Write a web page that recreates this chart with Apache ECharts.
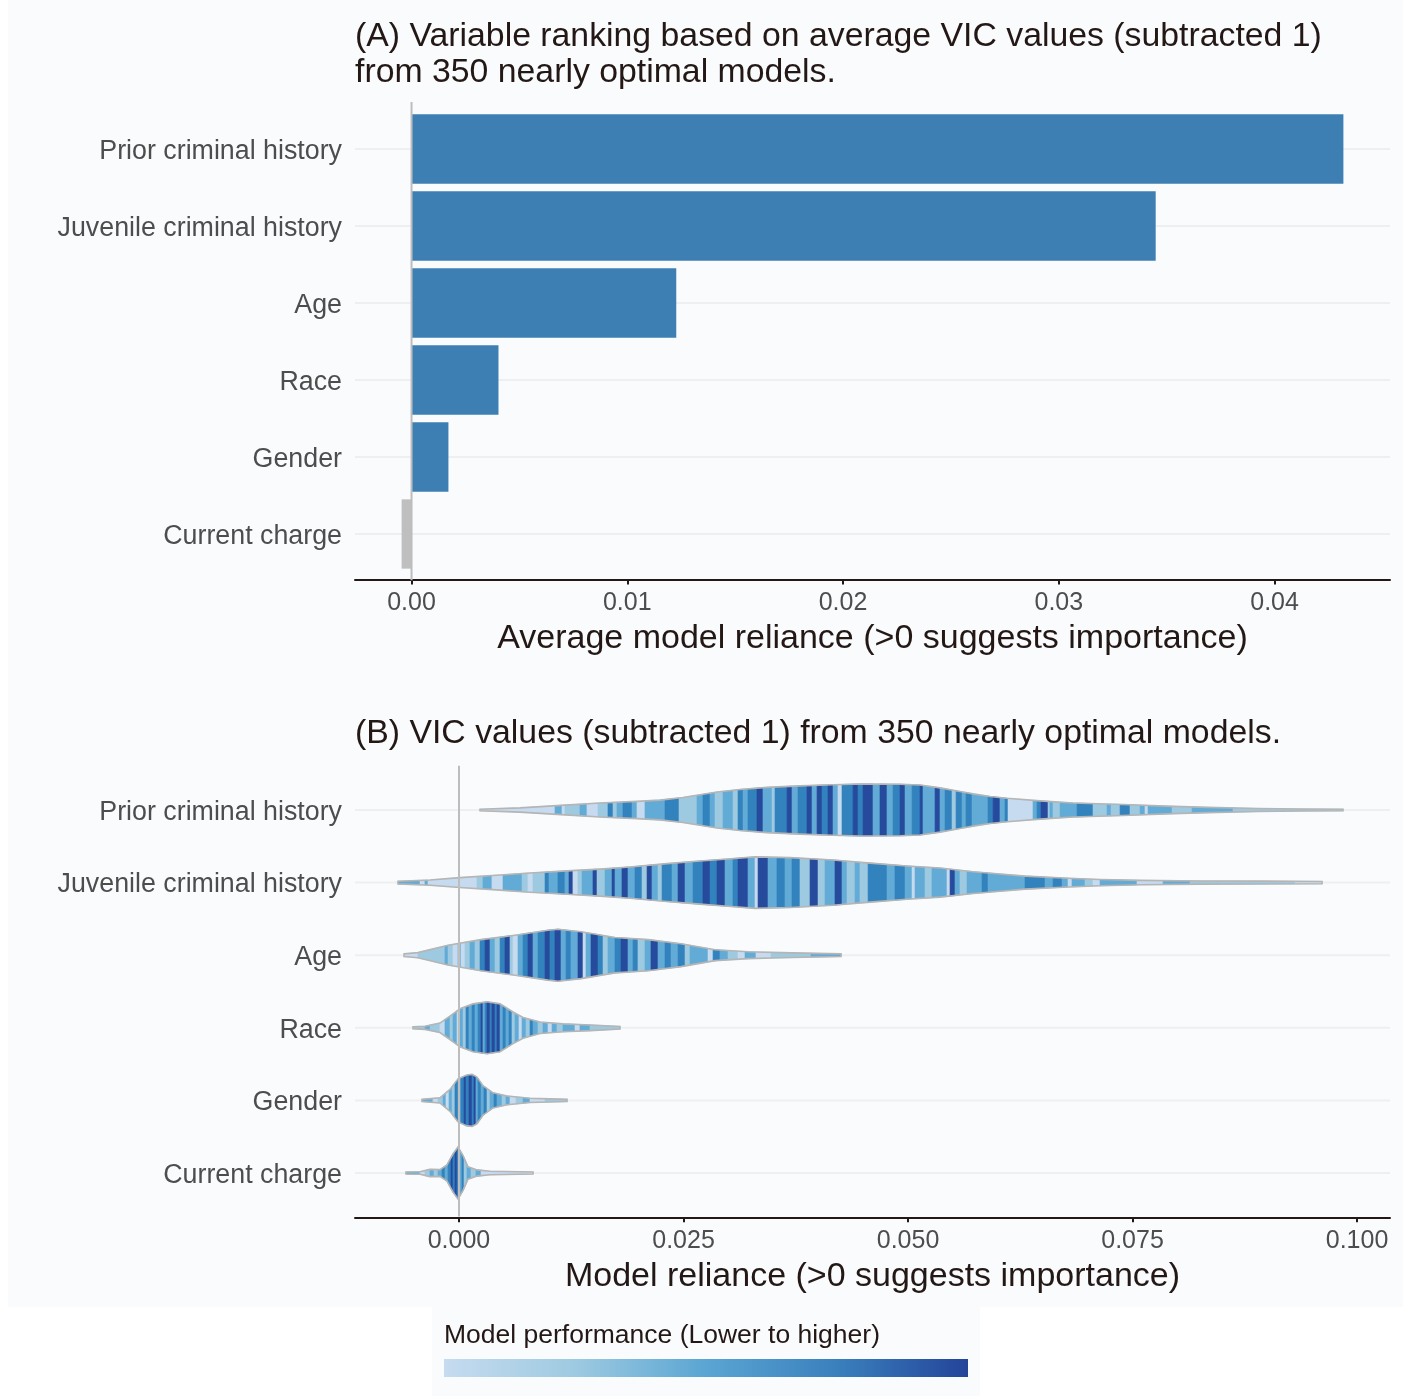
<!DOCTYPE html>
<html>
<head>
<meta charset="utf-8">
<script src="https://cdn.jsdelivr.net/npm/echarts@6/dist/echarts.min.js"></script>
<style>
  html, body { margin: 0; padding: 0; background: #ffffff; }
  #chart { width: 1409px; height: 1396px; }
</style>
</head>
<body>
<div id="chart"></div>
<script>
// Variables (top to bottom)
const categories = ['Prior criminal history', 'Juvenile criminal history', 'Age', 'Race', 'Gender', 'Current charge'];

// Panel A: average model reliance per variable
const meanReliance = [0.04319, 0.03449, 0.01227, 0.00403, 0.00171, -0.00046];

// Tick values
const tickValuesA = [0, 0.01, 0.02, 0.03, 0.04];
const tickValuesB = [0, 0.025, 0.05, 0.075, 0.1];

// Model performance bins, lower -> higher
const performanceColors = ['#c6dbef', '#9ecae1', '#62abd6', '#3282be', '#264a9c'];

// Panel B: violin outlines, [model reliance, relative density]
const priorShape = [[0.00234,0.03],[0.00679,0.08],[0.01091,0.17],[0.01570,0.27],[0.01982,0.33],[0.02238,0.38],[0.02494,0.48],[0.02873,0.69],[0.03129,0.79],[0.03430,0.87],[0.03797,0.93],[0.04165,0.97],[0.04465,1.00],[0.04911,0.99],[0.05134,0.96],[0.05356,0.85],[0.05579,0.71],[0.05724,0.62],[0.05913,0.52],[0.06102,0.45],[0.06470,0.35],[0.06837,0.27],[0.07394,0.21],[0.07951,0.14],[0.08330,0.10],[0.08886,0.06],[0.09365,0.04],[0.09844,0.03]];
const juvenileShape = [[-0.00679,0.05],[-0.00323,0.10],[0.00011,0.19],[0.00457,0.29],[0.00791,0.37],[0.01203,0.45],[0.01570,0.52],[0.01904,0.60],[0.02316,0.73],[0.02684,0.83],[0.02996,0.91],[0.03296,0.99],[0.03686,0.96],[0.04165,0.87],[0.04577,0.75],[0.04989,0.64],[0.05356,0.56],[0.05724,0.42],[0.06024,0.33],[0.06303,0.25],[0.06782,0.17],[0.07138,0.12],[0.07584,0.085],[0.08252,0.06],[0.08920,0.055],[0.09610,0.045]];
const ageShape = [[-0.00612,0.05],[-0.00457,0.10],[-0.00122,0.38],[0.00245,0.60],[0.00624,0.77],[0.00991,0.96],[0.01102,1.00],[0.01359,0.90],[0.01737,0.68],[0.02105,0.60],[0.02472,0.44],[0.02851,0.21],[0.03218,0.13],[0.03586,0.10],[0.03964,0.07],[0.04254,0.05]];
const raceShape = [[-0.00512,0.04],[-0.00379,0.06],[-0.00212,0.18],[-0.00100,0.45],[0.00011,0.73],[0.00156,0.92],[0.00312,1.00],[0.00457,0.92],[0.00601,0.61],[0.00713,0.40],[0.00902,0.22],[0.01158,0.15],[0.01459,0.11],[0.01793,0.05]];
const genderShape = [[-0.00412,0.04],[-0.00212,0.10],[-0.00100,0.42],[-0.00011,0.83],[0.00089,0.98],[0.00145,1.00],[0.00200,0.90],[0.00267,0.57],[0.00379,0.29],[0.00535,0.17],[0.00791,0.08],[0.01203,0.04]];
const currentShape = [[-0.00590,0.04],[-0.00434,0.05],[-0.00323,0.14],[-0.00212,0.13],[-0.00134,0.31],[-0.00067,0.73],[-0.00011,1.00],[0.00045,0.67],[0.00100,0.24],[0.00200,0.12],[0.00345,0.07],[0.00824,0.04]];

// Panel B: model stripes, [model reliance where the stripe starts, performance bin]
const priorStripes = [[0.00234,0],[0.01069,2],[0.01147,0],[0.01180,1],[0.01347,2],[0.01425,0],[0.01548,1],[0.01659,3],[0.01715,1],[0.01759,2],[0.01826,3],[0.01927,2],[0.01982,0],[0.02071,2],[0.02294,3],[0.02450,1],[0.02650,2],[0.02717,3],[0.02795,2],[0.02851,1],[0.02940,2],[0.03051,1],[0.03107,3],[0.03163,2],[0.03218,3],[0.03318,4],[0.03385,2],[0.03486,1],[0.03519,3],[0.03653,4],[0.03708,2],[0.03775,3],[0.03875,4],[0.03931,2],[0.03987,4],[0.04042,3],[0.04109,4],[0.04165,2],[0.04220,0],[0.04265,3],[0.04388,4],[0.04443,3],[0.04499,4],[0.04610,2],[0.04688,4],[0.04766,2],[0.04833,3],[0.04911,4],[0.04967,2],[0.05045,3],[0.05134,4],[0.05167,2],[0.05301,4],[0.05356,2],[0.05412,3],[0.05490,1],[0.05535,3],[0.05601,2],[0.05646,3],[0.05713,2],[0.05891,3],[0.05947,4],[0.06024,2],[0.06080,3],[0.06114,0],[0.06392,2],[0.06437,3],[0.06481,4],[0.06559,1],[0.06581,2],[0.06615,1],[0.06693,2],[0.06882,3],[0.07060,1],[0.07216,2],[0.07261,1],[0.07361,3],[0.07472,1],[0.07584,2],[0.07639,0],[0.07673,2],[0.07940,1],[0.08163,2],[0.08619,1]];
const juvenileStripes = [[-0.00679,2],[-0.00434,0],[-0.00379,2],[-0.00345,0],[0.00200,1],[0.00267,2],[0.00367,0],[0.00490,2],[0.00702,1],[0.00768,0],[0.00824,1],[0.00958,3],[0.01002,2],[0.01102,3],[0.01180,2],[0.01225,4],[0.01269,0],[0.01325,1],[0.01370,2],[0.01492,4],[0.01537,1],[0.01626,2],[0.01704,4],[0.01737,2],[0.01815,4],[0.01882,2],[0.01960,3],[0.02038,1],[0.02094,4],[0.02149,2],[0.02216,1],[0.02261,3],[0.02372,2],[0.02439,4],[0.02517,2],[0.02606,3],[0.02717,4],[0.02795,3],[0.02873,4],[0.02962,2],[0.03051,3],[0.03107,4],[0.03218,2],[0.03296,0],[0.03330,4],[0.03441,2],[0.03541,3],[0.03630,2],[0.03708,3],[0.03797,1],[0.03909,4],[0.03998,1],[0.04076,2],[0.04187,4],[0.04265,2],[0.04321,1],[0.04410,2],[0.04465,1],[0.04555,3],[0.04766,2],[0.04855,3],[0.04967,2],[0.05045,0],[0.05078,2],[0.05189,1],[0.05267,2],[0.05434,0],[0.05468,4],[0.05523,2],[0.05579,1],[0.05657,2],[0.05824,3],[0.05891,2],[0.06303,3],[0.06526,2],[0.06615,3],[0.06715,2],[0.06782,0],[0.06826,2],[0.06971,1],[0.07060,0],[0.07138,2],[0.07550,0],[0.07840,2],[0.08140,1],[0.09310,0]];
const ageStripes = [[-0.00612,0],[-0.00457,1],[-0.00156,2],[-0.00122,1],[-0.00067,0],[-0.00011,2],[0.00022,0],[0.00067,1],[0.00122,2],[0.00178,1],[0.00234,3],[0.00290,4],[0.00345,2],[0.00401,1],[0.00457,3],[0.00512,4],[0.00568,1],[0.00601,0],[0.00657,2],[0.00713,3],[0.00768,4],[0.00824,2],[0.00880,3],[0.00958,4],[0.01013,3],[0.01069,4],[0.01136,2],[0.01192,3],[0.01247,2],[0.01325,4],[0.01381,0],[0.01414,2],[0.01470,4],[0.01548,3],[0.01604,1],[0.01659,2],[0.01737,3],[0.01804,4],[0.01882,2],[0.01938,3],[0.01993,1],[0.02071,2],[0.02138,4],[0.02216,2],[0.02294,3],[0.02361,2],[0.02439,3],[0.02517,1],[0.02572,2],[0.02773,0],[0.02829,3],[0.02906,2],[0.02996,1],[0.03107,0],[0.03185,2],[0.03307,0],[0.03474,1],[0.03920,2]];
const raceStripes = [[-0.00512,1],[-0.00379,2],[-0.00323,1],[-0.00212,0],[-0.00156,2],[-0.00100,1],[-0.00067,2],[-0.00022,0],[0.00011,2],[0.00045,1],[0.00078,3],[0.00111,2],[0.00145,3],[0.00178,2],[0.00212,3],[0.00245,4],[0.00267,2],[0.00290,3],[0.00312,4],[0.00345,3],[0.00367,4],[0.00401,3],[0.00423,4],[0.00457,2],[0.00490,3],[0.00523,2],[0.00557,3],[0.00590,1],[0.00624,2],[0.00668,0],[0.00702,2],[0.00746,1],[0.00791,3],[0.00824,2],[0.00880,1],[0.00935,2],[0.00991,0],[0.01036,2],[0.01091,1],[0.01158,2],[0.01292,0],[0.01347,2],[0.01459,1]];
const genderStripes = [[-0.00412,2],[-0.00290,0],[-0.00234,1],[-0.00178,2],[-0.00145,0],[-0.00111,2],[-0.00078,1],[-0.00045,3],[-0.00011,2],[0.00022,3],[0.00056,4],[0.00078,3],[0.00111,4],[0.00145,3],[0.00167,4],[0.00189,2],[0.00212,3],[0.00245,2],[0.00278,3],[0.00312,1],[0.00345,2],[0.00390,3],[0.00423,2],[0.00479,1],[0.00523,2],[0.00568,0],[0.00635,1],[0.00713,2],[0.00791,0],[0.00958,1]];
const currentStripes = [[-0.00590,2],[-0.00434,0],[-0.00379,1],[-0.00323,2],[-0.00278,1],[-0.00234,2],[-0.00189,3],[-0.00156,2],[-0.00122,3],[-0.00089,4],[-0.00067,3],[-0.00045,4],[-0.00022,3],[0.00011,2],[0.00033,3],[0.00056,1],[0.00089,2],[0.00134,1],[0.00189,2],[0.00245,0]];

const violinShapes = [priorShape, juvenileShape, ageShape, raceShape, genderShape, currentShape];
const violinStripes = [priorStripes, juvenileStripes, ageStripes, raceStripes, genderStripes, currentStripes];

const FONT = 'Liberation Sans, Arial, Helvetica, sans-serif';
const INK = '#231815';
const GREY_TEXT = '#4d4d4d';
const PANEL_BG = '#f9fbfd';

// Violin half-height at the widest point, as a share of one category band
const VIOLIN_HALF = 0.358;

function halfAt(shape, v) {
  if (v < shape[0][0] || v > shape[shape.length - 1][0]) return 0;
  for (let j = 0; j < shape.length - 1; j++) {
    const a = shape[j], b = shape[j + 1];
    if (v >= a[0] && v <= b[0]) {
      const t = b[0] === a[0] ? 0 : (v - a[0]) / (b[0] - a[0]);
      return a[1] + t * (b[1] - a[1]);
    }
  }
  return shape[shape.length - 1][1];
}

function renderViolin(params, api) {
  const i = params.dataIndex;
  const shape = violinShapes[i];
  const stripes = violinStripes[i];
  const band = api.size([0, 1])[1];
  const cy = api.coord([0, i])[1];
  const k = VIOLIN_HALF * band;
  const px = v => api.coord([v, i])[0];
  const end = shape[shape.length - 1][0];
  const children = [];

  stripes.forEach((s, j) => {
    const x0 = s[0];
    const x1 = j + 1 < stripes.length ? stripes[j + 1][0] : end;
    const xs = [x0];
    shape.forEach(p => { if (p[0] > x0 && p[0] < x1) xs.push(p[0]); });
    xs.push(x1);
    const top = xs.map(v => [px(v), cy - halfAt(shape, v) * k]);
    const bottom = xs.slice().reverse().map(v => [px(v), cy + halfAt(shape, v) * k]);
    const c = performanceColors[s[1]];
    children.push({
      type: 'polygon',
      shape: { points: top.concat(bottom) },
      style: { fill: c, stroke: c, lineWidth: 0.6 }
    });
  });

  const outlineTop = shape.map(p => [px(p[0]), cy - p[1] * k]);
  const outlineBottom = shape.slice().reverse().map(p => [px(p[0]), cy + p[1] * k]);
  children.push({
    type: 'polygon',
    shape: { points: outlineTop.concat(outlineBottom) },
    style: { fill: 'none', stroke: '#b5b5b5', lineWidth: 1.6 }
  });
  return { type: 'group', children };
}

// Horizontal guide lines through each category centre
function renderGridLines(params, api) {
  const cs = params.coordSys;
  const children = categories.map((c, i) => {
    const y = api.coord([0, i])[1];
    return { type: 'line', shape: { x1: cs.x, y1: y, x2: cs.x + cs.width, y2: y },
             style: { stroke: '#eeeff0', lineWidth: 2 } };
  });
  return { type: 'group', children };
}

// Vertical reference line at zero, running slightly past the bands like the panel
function renderZeroLine(params, api) {
  const cs = params.coordSys;
  const band = api.size([0, 1])[1];
  const x = api.coord([0, 0])[0];
  return { type: 'line',
           shape: { x1: x, y1: cs.y - 0.11 * band, x2: x, y2: cs.y + cs.height + 0.1 * band },
           style: { stroke: '#bdbdbd', lineWidth: 2 } };
}

const chart = echarts.init(document.getElementById('chart'), null, { renderer: 'canvas' });

function valueAxis(gridIndex, min, max, ticks, digits, name, offset) {
  return {
    type: 'value', gridIndex, min, max, offset,
    name, nameLocation: 'middle', nameGap: 42,
    nameTextStyle: { fontSize: 34, color: INK, fontFamily: FONT },
    axisLine: { show: true, onZero: false, lineStyle: { color: INK, width: 2 } },
    axisTick: { show: true, length: 5, customValues: ticks, lineStyle: { color: INK, width: 2 } },
    axisLabel: { customValues: ticks, fontSize: 25, color: GREY_TEXT, fontFamily: FONT, margin: 11,
                 formatter: v => v.toFixed(digits) },
    splitLine: { show: false }
  };
}

function categoryAxis(gridIndex) {
  return {
    type: 'category', gridIndex, data: categories, inverse: true,
    axisLine: { show: false }, axisTick: { show: false },
    axisLabel: {
      margin: 13,
      formatter: v => '{n|' + v + '}',
      rich: { n: { fontSize: 26.8, color: GREY_TEXT, fontFamily: FONT, padding: [5, 0, 0, 0] } }
    },
    splitLine: { show: false }
  };
}

const option = {
  backgroundColor: '#ffffff',
  animation: false,
  graphic: [
    { type: 'rect', z: -10, silent: true, shape: { x: 8, y: 0, width: 1395, height: 1307 }, style: { fill: PANEL_BG } },
    { type: 'rect', z: -10, silent: true, shape: { x: 432, y: 1307, width: 548, height: 89 }, style: { fill: PANEL_BG } },
    { type: 'text', left: 444, top: 1322, style: { text: 'Model performance (Lower to higher)', fontSize: 26.5, fill: INK, fontFamily: FONT } },
    { type: 'rect', silent: true, shape: { x: 444, y: 1359, width: 524, height: 18 },
      style: { fill: new echarts.graphic.LinearGradient(0, 0, 1, 0, [
        { offset: 0, color: performanceColors[0] },
        { offset: 0.25, color: performanceColors[1] },
        { offset: 0.5, color: '#5aa5d3' },
        { offset: 0.75, color: '#3a80bd' },
        { offset: 1, color: '#24449a' }
      ]) } }
  ],
  title: [
    { text: '(A) Variable ranking based on average VIC values (subtracted 1)\nfrom 350 nearly optimal models.',
      left: 355, top: 19, padding: 0,
      textStyle: { fontSize: 33.8, fontWeight: 'normal', color: INK, lineHeight: 36, fontFamily: FONT } },
    { text: '(B) VIC values (subtracted 1) from 350 nearly optimal models.',
      left: 355, top: 716, padding: 0,
      textStyle: { fontSize: 33.8, fontWeight: 'normal', color: INK, lineHeight: 36, fontFamily: FONT } }
  ],
  grid: [
    { left: 355, top: 110.5, width: 1035, height: 462, containLabel: false, outerBoundsMode: 'none' },
    { left: 355, top: 773.7, width: 1035, height: 435.6, containLabel: false, outerBoundsMode: 'none' }
  ],
  xAxis: [
    valueAxis(0, -0.00262, 0.04535, tickValuesA, 2, 'Average model reliance (>0 suggests importance)', 7),
    valueAxis(1, -0.01158, 0.10367, tickValuesB, 3, 'Model reliance (>0 suggests importance)', 8)
  ],
  yAxis: [categoryAxis(0), categoryAxis(1)],
  series: [
    { type: 'custom', xAxisIndex: 0, yAxisIndex: 0, z: 1, silent: true,
      data: [[0, 0]], renderItem: renderGridLines },
    { type: 'bar', xAxisIndex: 0, yAxisIndex: 0, z: 2, barWidth: '90%', silent: true,
      data: meanReliance.map(v => ({ value: v, itemStyle: { color: v >= 0 ? '#3d7fb3' : '#bfbfbf' } })) },
    { type: 'custom', xAxisIndex: 0, yAxisIndex: 0, z: 3, silent: true,
      data: [[0, 0]], renderItem: renderZeroLine },

    { type: 'custom', xAxisIndex: 1, yAxisIndex: 1, z: 1, silent: true,
      data: [[0, 0]], renderItem: renderGridLines },
    { type: 'custom', xAxisIndex: 1, yAxisIndex: 1, z: 2, silent: true,
      data: categories.map((c, i) => [0, i]), encode: { x: 0, y: 1 }, renderItem: renderViolin },
    { type: 'custom', xAxisIndex: 1, yAxisIndex: 1, z: 3, silent: true,
      data: [[0, 0]], renderItem: renderZeroLine }
  ]
};

chart.setOption(option);
</script>
</body>
</html>
